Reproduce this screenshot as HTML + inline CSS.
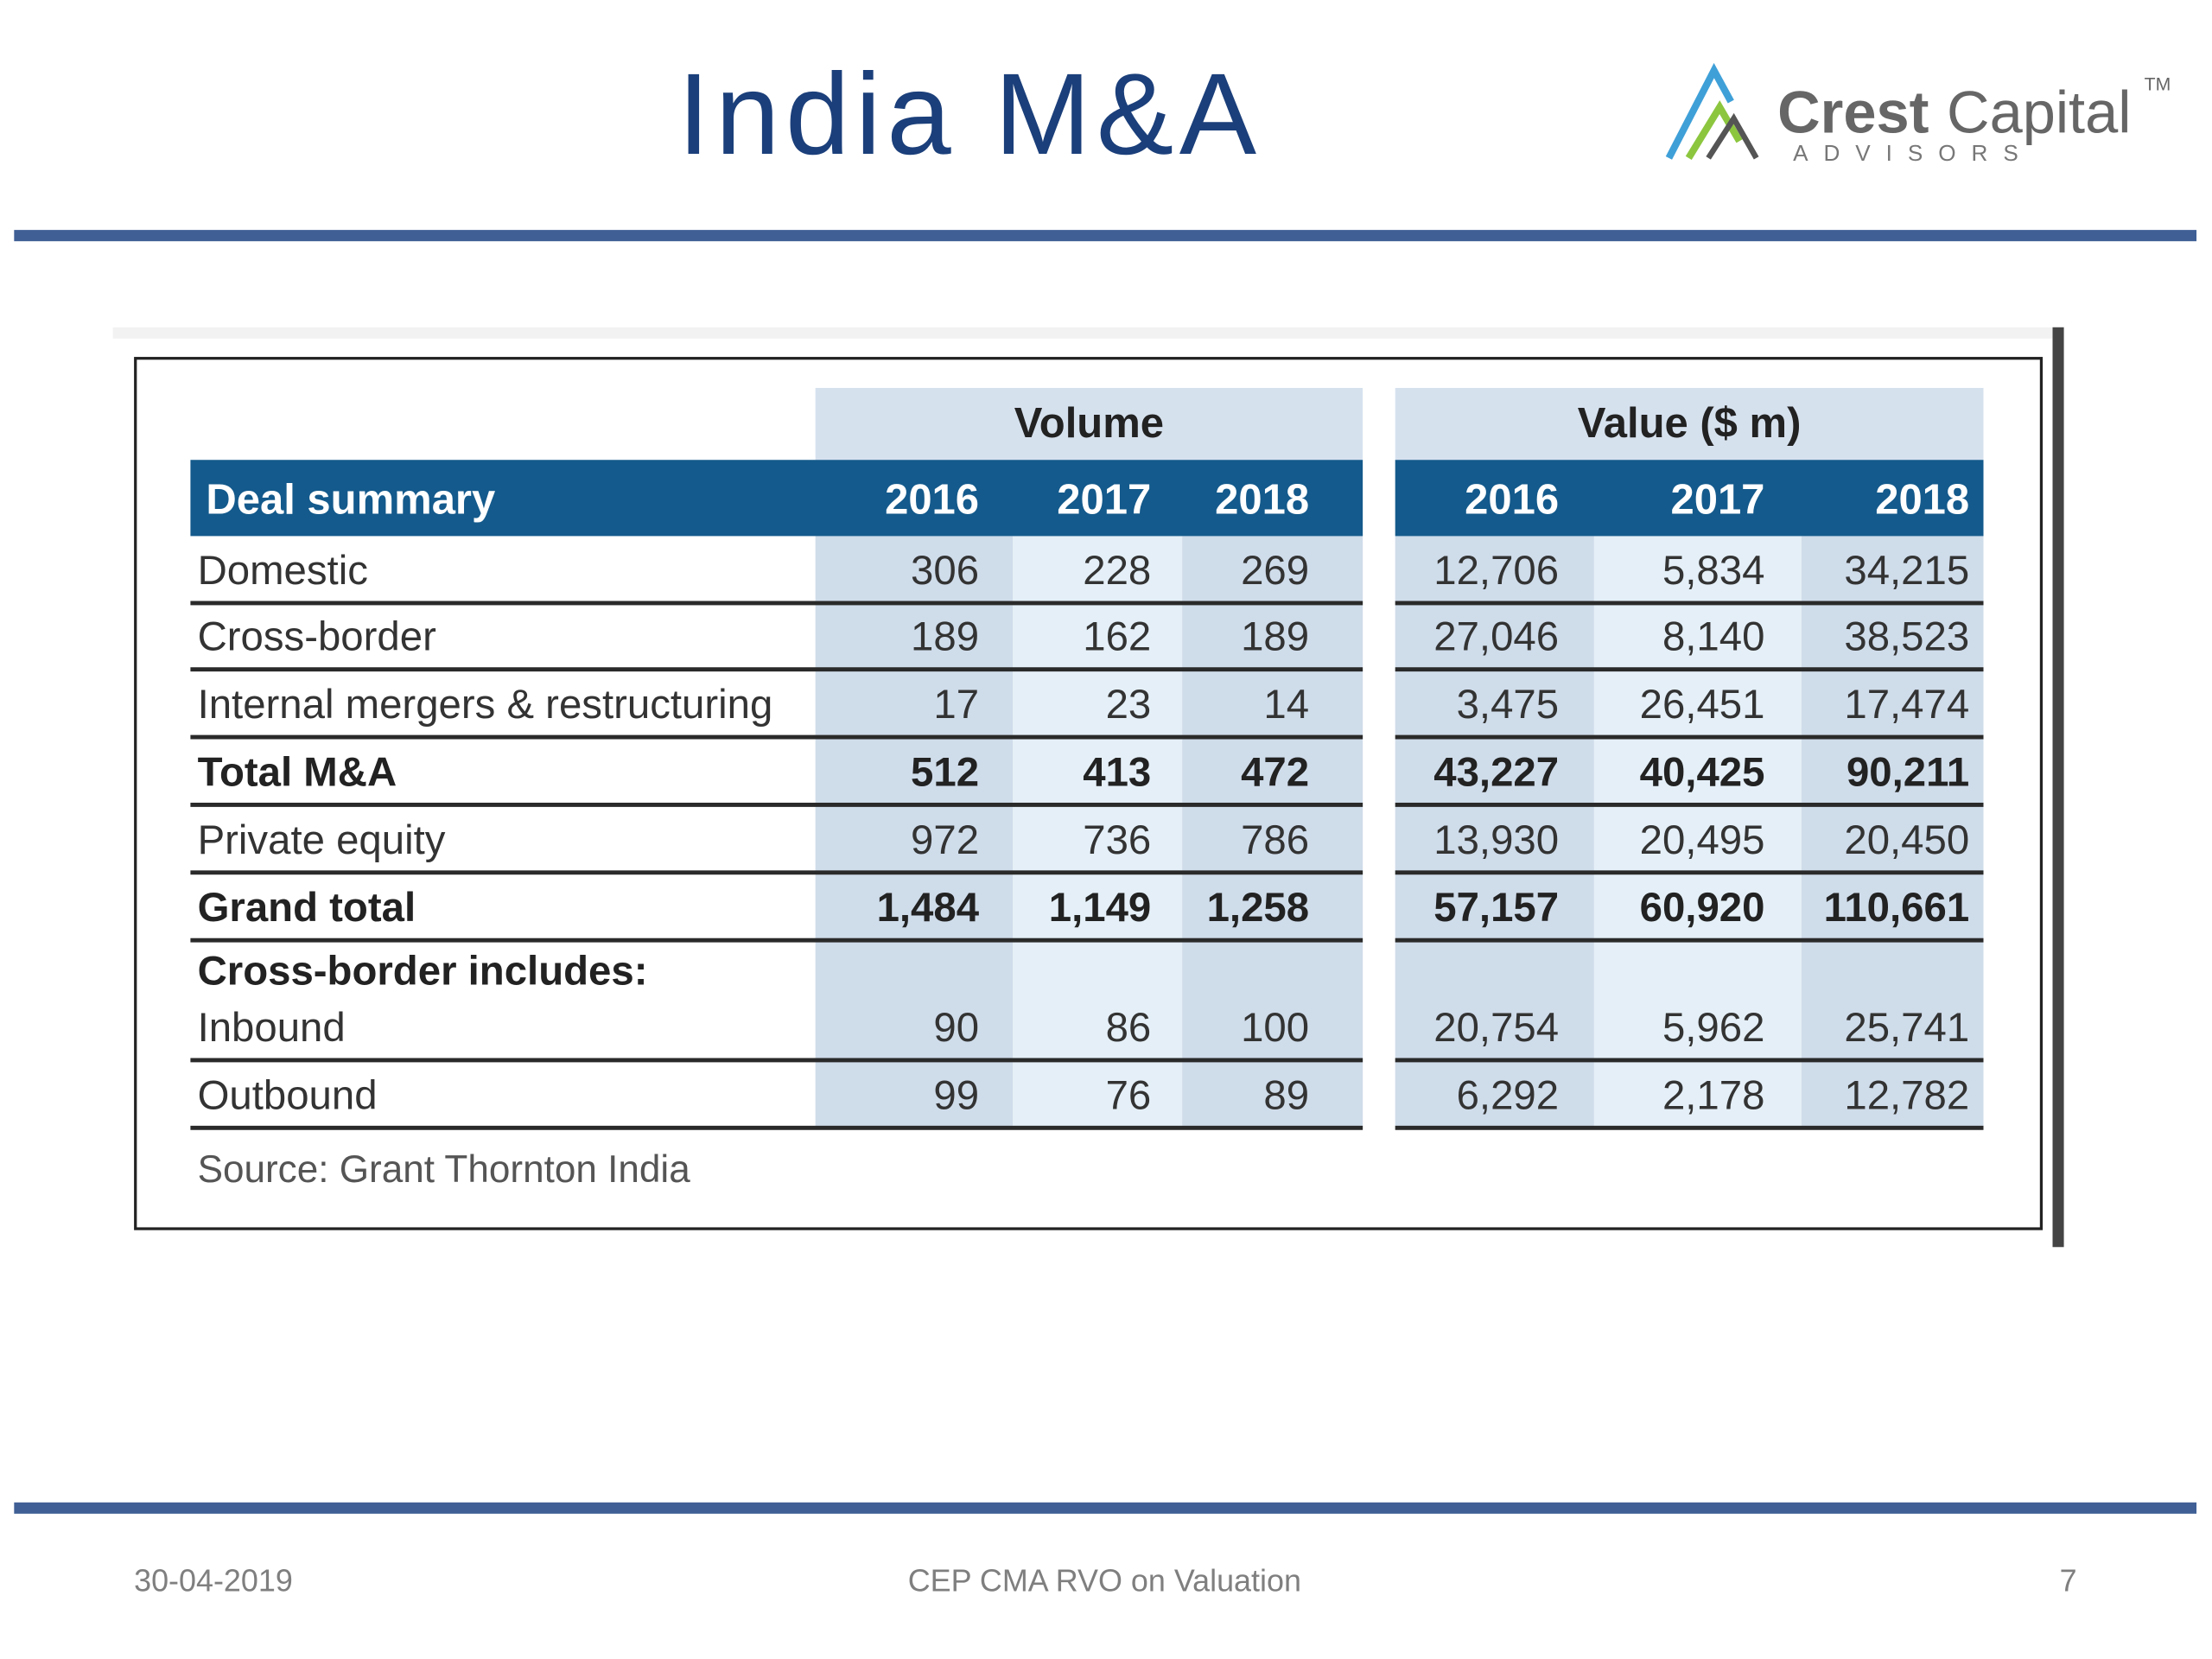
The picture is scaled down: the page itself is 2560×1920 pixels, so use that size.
<!DOCTYPE html>
<html><head><meta charset="utf-8">
<style>
html,body{margin:0;padding:0;background:#fff;}
body{width:2560px;height:1920px;overflow:hidden;position:relative;}
#s{position:absolute;left:0;top:0;width:1568px;height:1176px;transform:scale(1.63265);transform-origin:0 0;font-family:"Liberation Sans Narrow","Liberation Sans",sans-serif;}
.a{position:absolute;}
.t{position:absolute;font-size:29px;color:#333;white-space:nowrap;line-height:1;}
.n{text-align:right;}
.b{font-weight:bold;color:#222;}
.h{color:#fff;font-weight:bold;font-size:30px;}
</style></head><body>
<div id="s">
<div class="a" style="left:0;width:1375px;top:41px;text-align:center;font-family:'Liberation Sans',sans-serif;font-size:82px;letter-spacing:4px;color:#1b3f7a;line-height:1;">India M&amp;A</div>
<svg class="a" style="left:1175px;top:40px" width="370" height="80">
<polyline points="8,72 40,10 52,32" fill="none" stroke="#3fa0d8" stroke-width="5"/>
<polyline points="22,72 44,36 58,60" fill="none" stroke="#8cc63f" stroke-width="5"/>
<polyline points="36,72 54,44 70,72" fill="none" stroke="#555" stroke-width="4"/>
<text x="85" y="54" font-family="Liberation Sans" font-size="42" font-weight="bold" fill="#666">Crest</text>
<text x="205" y="54" font-family="Liberation Sans" font-size="42" fill="#666">Capital</text>
<text x="345" y="24" font-family="Liberation Sans" font-size="13" fill="#666">TM</text>
<text x="96" y="74" font-family="Liberation Sans" font-size="16" fill="#777" letter-spacing="11">ADVISORS</text>
</svg>
<div class="a" style="left:10px;top:163px;width:1547px;height:8px;background:#3f5f95;"></div>
<div class="a" style="left:80px;top:232px;width:1375px;height:8px;background:#f2f2f2;"></div>
<div class="a" style="left:1455px;top:232px;width:8px;height:652px;background:#444;"></div>
<div class="a" style="left:95px;top:253px;width:1349px;height:615px;border:2px solid #222;"></div>
<div id="tbl"></div>
<div class="t" style="left:140px;top:816px;font-size:27px;color:#555;">Source: Grant Thornton India</div>
<div class="a" style="left:10px;top:1065px;width:1547px;height:8px;background:#3f5f95;"></div>
<div class="t" style="left:95px;top:1110px;font-family:'Liberation Sans',sans-serif;font-size:22px;color:#7f7f7f;">30-04-2019</div>
<div class="t" style="left:583px;width:400px;text-align:center;top:1110px;font-family:'Liberation Sans',sans-serif;font-size:22px;color:#7f7f7f;">CEP CMA RVO on Valuation</div>
<div class="t" style="left:1460px;top:1110px;font-family:'Liberation Sans',sans-serif;font-size:22px;color:#7f7f7f;">7</div>
</div>
<script>
const years=["2016","2017","2018"];
const rowLabels=["Domestic","Cross-border","Internal mergers & restructuring","Total M&A","Private equity","Grand total","Inbound","Outbound"];
const volume=[["306","228","269"],["189","162","189"],["17","23","14"],["512","413","472"],["972","736","786"],["1,484","1,149","1,258"],["90","86","100"],["99","76","89"]];
const value=[["12,706","5,834","34,215"],["27,046","8,140","38,523"],["3,475","26,451","17,474"],["43,227","40,425","90,211"],["13,930","20,495","20,450"],["57,157","60,920","110,661"],["20,754","5,962","25,741"],["6,292","2,178","12,782"]];
const boldRows=[3,5];
const s=document.getElementById('s');
function add(tag,css,cls,txt){const e=document.createElement(tag);e.className=cls||'a';e.style.cssText=css;if(txt!=null)e.textContent=txt;s.appendChild(e);return e;}
const rowBots=[428,475,523,571,619,667,752,800];
const colBands=[[578,718,'#cfdcea'],[718,838,'#e4eff7'],[838,966,'#cfdcea'],[989,1130,'#cfdcea'],[1130,1277,'#e4eff7'],[1277,1406,'#cfdcea']];
const colRight=[694,816,928,1105,1251,1396];
colBands.forEach((c,i)=>{const e=add('div',`left:${c[0]}px;top:380px;width:${c[1]-c[0]}px;height:420px;background:${c[2]};`);

});
[[578,966,'Volume'],[989,1406,'Value ($ m)']].forEach(g=>{const e=add('div',`left:${g[0]}px;top:275px;width:${g[1]-g[0]}px;height:51px;background:#d6e1ee;`);


const t=add('div',`left:${g[0]}px;width:${g[1]-g[0]}px;top:286px;text-align:center;font-weight:bold;font-size:30px;color:#222;`,'t',g[2]);

});
[[135,966],[989,1406]].forEach(g=>{const e=add('div',`left:${g[0]}px;top:326px;width:${g[1]-g[0]}px;height:54px;background:#145a8c;`);

});
const dh=add('div','left:146px;top:340px;','t h','Deal summary');


colRight.forEach((r,i)=>{const e=add('div',`left:${r-120}px;width:120px;top:340px;`,'t h n',years[i%3]);

});
rowLabels.forEach((lab,ri)=>{const b=boldRows.includes(ri);const y=rowBots[ri]-37;
const l=add('div',`left:140px;top:${y}px;`,'t'+(b?' b':''),lab);


const vals=volume[ri].concat(value[ri]);
vals.forEach((v,ci)=>{const e=add('div',`left:${colRight[ci]-150}px;width:150px;top:${y}px;`,'t n'+(b?' b':''),v);

});
[[135,966],[989,1406]].forEach(g=>{const ln=add('div',`left:${g[0]}px;top:${rowBots[ri]-2}px;width:${g[1]-g[0]}px;height:3px;background:#2a2a2a;`);

});});
const cb=add('div','left:140px;top:675px;','t b','Cross-border includes:');


</script>
</body></html>
